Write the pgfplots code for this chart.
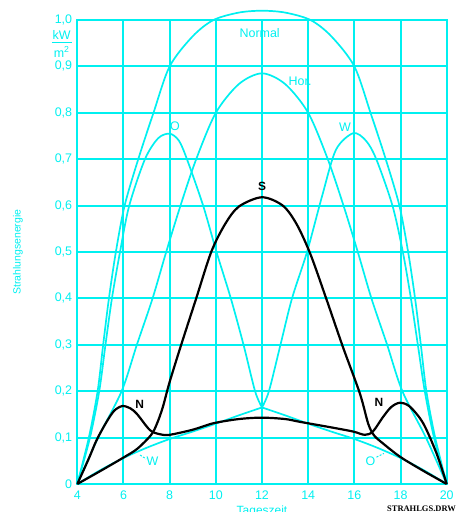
\documentclass[border=0pt]{standalone}
\usepackage{pgfplots}
\pgfplotsset{compat=1.18}
\usepackage{fontspec}
\setmainfont{Liberation Sans}
\newfontfamily\serifbold{Liberation Serif}
\definecolor{cy}{RGB}{0,240,240}
\begin{document}
\begin{tikzpicture}
\begin{axis}[
  scale only axis, width=369.4bp, height=464bp,
  xmin=4, xmax=20, ymin=0, ymax=1,
  clip=false,
  axis line style={cy, line width=2bp},
  grid=major, major grid style={cy, line width=2bp},
  xtick={4,6,8,10,12,14,16,18,20},
  xticklabels={4,6,8,10,12,14,16,18,20},
  ytick={0,0.1,0.2,0.3,0.4,0.5,0.6,0.7,0.8,0.9,1.0},
  yticklabels={0,{0,1},{0,2},{0,3},{0,4},{0,5},{0,6},{0,7},{0,8},{0,9},{1,0}},
  major tick length=0pt,
  tick label style={text=cy, font=\fontsize{12.5}{14}\selectfont},
  xticklabel style={anchor=north, inner sep=0pt, yshift=-6.5bp},
  yticklabel style={anchor=east, inner sep=0pt, xshift=-5bp},
]
\coordinate (sw) at (rel axis cs:0,0);
% Normal
\addplot[cy, line width=1.7bp, smooth, tension=0.5] coordinates {
(4,0) (4.5,0.1) (4.88,0.2) (5.12,0.3) (5.37,0.4) (5.67,0.5) (6.05,0.6) (6.64,0.7) (7.3,0.8) (8,0.9) (9,0.965) (9.9,1.0) (11,1.016) (12,1.02) (13,1.016) (14.1,1.0) (15,0.965) (16,0.9) (16.7,0.8) (17.36,0.7) (17.95,0.6) (18.33,0.5) (18.63,0.4) (18.88,0.3) (19.12,0.2) (19.5,0.1) (20,0)};
% Hor.
\addplot[cy, line width=1.7bp, smooth, tension=0.5] coordinates {
(4,0) (4.9,0.1) (5.92,0.2) (6.58,0.3) (7.26,0.4) (7.85,0.5) (8.47,0.6) (9.15,0.7) (10,0.8) (11,0.862) (12,0.885) (13,0.862) (14,0.8) (14.85,0.7) (15.53,0.6) (16.15,0.5) (16.74,0.4) (17.42,0.3) (18.08,0.2) (19.1,0.1) (20,0)};
% O upper
\addplot[cy, line width=1.7bp, smooth, tension=0.5] coordinates {
(4,0) (4.55,0.1) (4.95,0.2) (5.22,0.3) (5.5,0.4) (5.85,0.5) (6.25,0.6) (6.93,0.7) (7.5,0.745) (8,0.755) (8.4,0.74) (8.75,0.7) (9.45,0.6) (10.03,0.5) (10.65,0.4) (11.2,0.3) (11.7,0.2) (12,0.165)};
% O lower
\addplot[cy, line width=1.7bp, smooth, tension=0.5] coordinates {
(12,0.165) (13,0.148) (14,0.13) (15,0.113) (16,0.097) (17,0.078) (18,0.056) (19,0.03) (20,0)};
% W lower
\addplot[cy, line width=1.7bp, smooth, tension=0.5] coordinates {
(4,0) (5,0.03) (6,0.056) (7,0.078) (8,0.097) (9,0.113) (10,0.13) (11,0.148) (12,0.165)};
% W upper
\addplot[cy, line width=1.7bp, smooth, tension=0.5] coordinates {
(12,0.165) (12.3,0.2) (12.8,0.3) (13.3,0.4) (13.95,0.5) (14.6,0.62) (15.2,0.72) (15.95,0.756) (16.5,0.74) (16.95,0.7) (17.65,0.6) (18.1,0.5) (18.45,0.4) (18.75,0.3) (19.05,0.2) (19.45,0.1) (20,0)};
% S
\addplot[black, line width=2.2bp, smooth, tension=0.5] coordinates {
(4,0) (5,0.028) (6,0.057) (6.6,0.076) (7.2,0.106) (7.45,0.13) (7.7,0.165) (8,0.22) (8.5,0.3) (9.15,0.4) (9.8,0.5) (10.4,0.56) (11,0.598) (12,0.618) (12.9,0.6) (13.5,0.56) (14.1,0.495) (14.8,0.397) (15.5,0.296) (16.24,0.195) (16.6,0.13) (16.85,0.105) (17.25,0.087) (18,0.058) (19,0.028) (20,0)};
% N
\addplot[black, line width=2.2bp, smooth, tension=0.5] coordinates {
(4,0) (4.5,0.055) (4.84,0.095) (5.27,0.134) (5.6,0.158) (5.95,0.168) (6.3,0.163) (6.6,0.15) (7.15,0.116) (7.6,0.107) (8,0.106) (9,0.117) (9.9,0.131) (11,0.14) (12,0.143) (13,0.14) (13.64,0.134) (15,0.122) (15.95,0.113) (16.45,0.106) (16.8,0.113) (17.25,0.145) (17.6,0.166) (17.97,0.175) (18.4,0.167) (18.98,0.131) (19.56,0.066) (20,0)};
% labels
\tikzset{cl/.style={text=cy, font=\fontsize{12.5}{14}\selectfont, inner sep=0pt}}
\tikzset{bl/.style={text=black, font=\bfseries\fontsize{12}{14}\selectfont, inner sep=0pt}}
\node[cl] at (axis cs:11.9,0.972) {Normal};
\node[cl] at (axis cs:13.65,0.867) {Hor.};
\node[cl] at (axis cs:8.23,0.772) {O};
\node[cl] at (axis cs:15.6,0.768) {W};
\node[bl] at (axis cs:12,0.642) {S};
\node[bl] at (axis cs:6.7,0.172) {N};
\node[bl] at (axis cs:17.07,0.176) {N};
\node[cl] at (axis cs:7.26,0.05) {W};
\node[cl] at (axis cs:16.7,0.049) {O};
\draw[cy, line width=1bp, dash pattern=on 2bp off 1.5bp] (axis cs:6.72,0.0625) -- (axis cs:6.98,0.054);
\draw[cy, line width=1bp, dash pattern=on 2bp off 1.5bp] (axis cs:16.96,0.058) -- (axis cs:17.28,0.066);
% unit fraction
\node[cl, anchor=center] at ([xshift=-15.6bp]axis cs:4,0.967) {kW};
\draw[cy, line width=1.2bp] ([xshift=-25.3bp]axis cs:4,0.951) -- ([xshift=-5.3bp]axis cs:4,0.951);
\node[cl, anchor=center] at ([xshift=-15.6bp]axis cs:4,0.931) {m\textsuperscript{2}};
% axis labels
\node[text=cy, font=\fontsize{10.5}{12}\selectfont, rotate=90, inner sep=0pt] at ([xshift=-59.3bp]rel axis cs:0,0.5) {Strahlungsenergie};
\node[text=cy, font=\fontsize{12}{14}\selectfont, inner sep=0pt, anchor=base] at ([yshift=-30.6bp]axis cs:12,0) {Tageszeit};
\node[text=black, font=\serifbold\bfseries\fontsize{8.5}{10}\selectfont, inner sep=0pt, anchor=base east] at ([xshift=9.3bp, yshift=-27.5bp]rel axis cs:1,0) {STRAHLGS.DRW};
\end{axis}
\pgfresetboundingbox
\path (sw) ++(-77.3bp,-28bp) rectangle ++(456bp,512bp);
\end{tikzpicture}
\end{document}
